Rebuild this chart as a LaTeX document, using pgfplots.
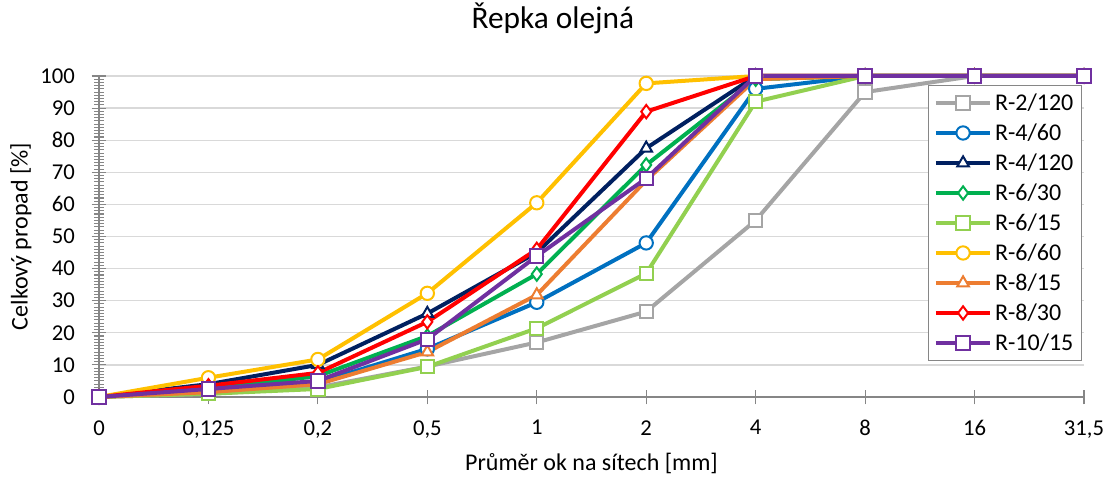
\documentclass[border=0pt]{standalone}
\usepackage{pgfplots}
\pgfplotsset{compat=1.18}
\usepackage{fontspec}
\setmainfont{Carlito}
\definecolor{cgray}{RGB}{165,165,165}
\definecolor{cblue}{RGB}{0,112,192}
\definecolor{cnavy}{RGB}{0,32,96}
\definecolor{cgreen}{RGB}{0,176,80}
\definecolor{clgreen}{RGB}{146,208,80}
\definecolor{cyellow}{RGB}{255,192,0}
\definecolor{corange}{RGB}{237,125,49}
\definecolor{cred}{RGB}{255,0,0}
\definecolor{cpurple}{RGB}{112,48,160}
\definecolor{axisgray}{RGB}{134,134,134}
\definecolor{gridgray}{RGB}{217,217,217}
\begin{document}
\begin{tikzpicture}
  \begin{axis}[
      scale only axis,
      width=738.75pt, height=240.75pt,
      xmin=0, xmax=9, ymin=0, ymax=100,
      xtick={0,...,9},
      xticklabels={0,{0,125},{0,2},{0,5},1,2,4,8,16,{31,5}},
      ytick={0,10,...,100},
      minor y tick num=9,
      ymajorgrids,
      major grid style={draw=gridgray, line width=1pt},
      axis lines*=left,
      axis line style={axisgray, line width=1pt},
      tick align=center,
      major tick length=11pt, minor tick length=7pt,
      every tick/.style={axisgray, line width=0.8pt},
      clip=false,
      /pgf/number format/assume math mode=true,
      tick label style={font=\fontsize{17}{20}\selectfont},
      xticklabel style={yshift=-8.5pt},
      yticklabel style={xshift=-9pt},
      label style={font=\fontsize{18}{22}\selectfont},
      title={Řepka olejná},
      title style={font=\fontsize{23.5}{28}\selectfont, at={(0.5,1)}, anchor=center, yshift=37pt, xshift=-29pt},
      xlabel={Průměr ok na sítech [mm]},
      xlabel style={at={(0.5,0)}, anchor=center, yshift=-49.5pt},
      ylabel={Celkový propad [\%]},
      ylabel style={at={(0,0.5)}, anchor=center, rotate=0, yshift=58.5pt},
      every axis plot/.append style={line width=3pt, mark size=5pt,
        mark options={fill=white, line width=1.5pt, solid}},
      legend style={at={(0.998,0.972)}, anchor=north east, draw=axisgray,
        line width=1pt, fill=white, font=\fontsize{18}{21}\selectfont,
        row sep=4.5pt, inner sep=4pt},
      legend cell align=left,
      legend image code/.code={\draw[mark repeat=2,mark phase=2] plot coordinates {(0cm,0cm) (0.72cm,0cm) (1.44cm,0cm)};},
    ]
    \addplot[cgray, mark=square*] coordinates {(0,0) (1,1) (2,3) (3,9.5) (4,17) (5,26.6) (6,55) (7,95) (8,100) (9,100)};
    \addplot[cblue, mark=*] coordinates {(0,0) (1,2) (2,4.5) (3,15) (4,29.5) (5,48) (6,96) (7,100) (8,100) (9,100)};
    \addplot[cnavy, mark=triangle*] coordinates {(0,0) (1,4) (2,10) (3,26) (4,45) (5,77.5) (6,100) (7,100) (8,100) (9,100)};
    \addplot[cgreen, mark=diamond*] coordinates {(0,0) (1,2.5) (2,6.5) (3,19) (4,38.3) (5,72.3) (6,99) (7,100) (8,100) (9,100)};
    \addplot[clgreen, mark=square*] coordinates {(0,0) (1,1) (2,2.5) (3,9.4) (4,21.4) (5,38.5) (6,92) (7,100) (8,100) (9,100)};
    \addplot[cyellow, mark=*] coordinates {(0,0) (1,6) (2,11.7) (3,32.3) (4,60.5) (5,97.7) (6,100) (7,100) (8,100) (9,100)};
    \addplot[corange, mark=triangle*] coordinates {(0,0) (1,1.5) (2,4) (3,14) (4,31.8) (5,67.5) (6,99) (7,100) (8,100) (9,100)};
    \addplot[cred, mark=diamond*] coordinates {(0,0) (1,3.5) (2,7.5) (3,23.4) (4,46) (5,88.9) (6,100) (7,100) (8,100) (9,100)};
    \addplot[cpurple, mark=square*] coordinates {(0,0) (1,2.5) (2,5) (3,18) (4,43.9) (5,68.1) (6,100) (7,100) (8,100) (9,100)};
    \legend{R-2/120,R-4/60,R-4/120,R-6/30,R-6/15,R-6/60,R-8/15,R-8/30,R-10/15}
  \end{axis}
  \pgfresetboundingbox
  \path ([xshift=-74.25pt,yshift=-63pt]current axis.south west) rectangle ([xshift=22.5pt,yshift=57pt]current axis.north east);
\end{tikzpicture}
\end{document}
